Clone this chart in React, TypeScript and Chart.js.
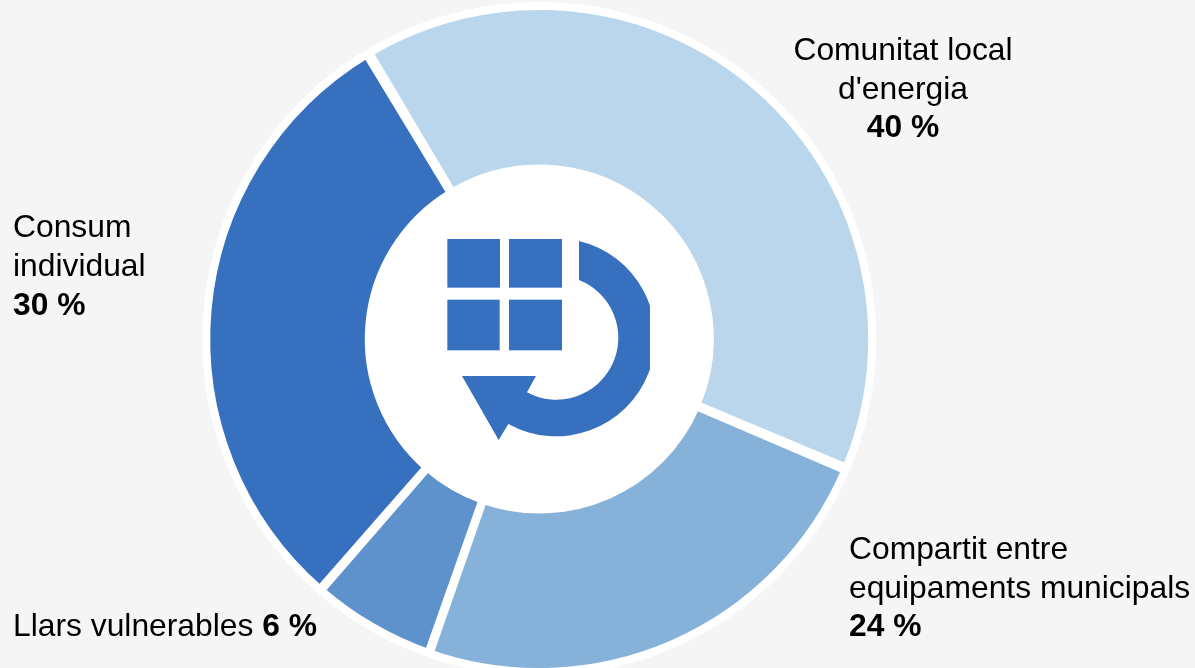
import React, { useEffect, useRef } from "react";
import { Chart, registerables } from "chart.js";

Chart.register(...registerables);

const categories = ["Comunitat local d'energia", "Compartit entre equipaments municipals", "Llars vulnerables", "Consum individual"];
const shares = [40, 24, 6, 30];
const sliceColors = ["#BAD6EC", "#86B2DA", "#5E92CD", "#3870C0"];

type Run = { text: string; bold?: boolean };
const labelLines: Run[][][] = [
  [[{ text: "Comunitat local" }], [{ text: "d'energia" }], [{ text: "40 %", bold: true }]],
  [[{ text: "Compartit entre" }], [{ text: "equipaments municipals" }], [{ text: "24 %", bold: true }]],
  [[{ text: "Llars vulnerables " }, { text: "6 %", bold: true }]],
  [[{ text: "Consum" }], [{ text: "individual" }], [{ text: "30 %", bold: true }]],
];
const labelX = [903, 849, 13, 13];
const labelBaselines = [[60, 99, 137], [559, 598, 636], [636], [237, 276, 315]];
const labelAlign: CanvasTextAlign[] = ["center", "left", "left", "left"];

const BG = "#F5F5F5";
const ICON = "#3870C0";
const FONT = '"Liberation Sans", Arial, sans-serif';
const FONT_SIZE = 31.8;
const squares = [
  [52, 42, 158, 146],
  [237, 42, 159, 146],
  [52, 224, 157, 152],
  [237, 224, 159, 152],
];
const arrowPath =
  "M447 48 A297 297 0 1 1 235 597 L206 645 L96 453 L318 453 L291 502 A186 186 0 1 0 447 165 Z";

const decorPlugin = {
  id: "decor",
  beforeDatasetsDraw(chart: any) {
    const arc = chart.getDatasetMeta(0).data[0];
    const ctx = chart.ctx;
    ctx.save();
    ctx.fillStyle = "#FFFFFF";
    ctx.beginPath();
    ctx.arc(arc.x, arc.y, 172, 0, Math.PI * 2);
    ctx.fill();
    ctx.restore();
  },
  afterDraw(chart: any) {
    const ctx: CanvasRenderingContext2D = chart.ctx;
    ctx.save();
    ctx.translate(430, 225);
    ctx.scale(1 / 3, 1 / 3);
    ctx.fillStyle = ICON;
    squares.forEach(([x, y, w, h]) => ctx.fillRect(x, y, w, h));
    ctx.beginPath();
    ctx.rect(0, 0, 660, 700);
    ctx.clip();
    ctx.fill(new Path2D(arrowPath));
    ctx.restore();

    ctx.save();
    ctx.fillStyle = "#000000";
    ctx.textBaseline = "alphabetic";
    labelLines.forEach((lines, i) => {
      lines.forEach((runs, j) => {
        const y = labelBaselines[i][j];
        const widths = runs.map((r) => {
          ctx.font = `${r.bold ? "bold " : ""}${FONT_SIZE}px ${FONT}`;
          return ctx.measureText(r.text).width;
        });
        const total = widths.reduce((a, b) => a + b, 0);
        let x = labelAlign[i] === "center" ? labelX[i] - total / 2 : labelX[i];
        ctx.textAlign = "left";
        runs.forEach((r, k) => {
          ctx.font = `${r.bold ? "bold " : ""}${FONT_SIZE}px ${FONT}`;
          ctx.fillText(r.text, x, y);
          x += widths[k];
        });
      });
    });
    ctx.restore();
  },
};

export default function App() {
  const ref = useRef<HTMLCanvasElement>(null);
  useEffect(() => {
    const chart = new Chart(ref.current!, {
      type: "doughnut",
      data: {
        labels: categories,
        datasets: [
          {
            data: shares,
            backgroundColor: sliceColors,
            borderColor: "#FFFFFF",
            borderWidth: 8,
            spacing: 2,
            clip: false,
          } as any,
        ],
      },
      options: {
        responsive: false,
        animation: false,
        rotation: -31,
        radius: 332,
        cutout: "51.05%",
        layout: { padding: { left: 0, right: 116.5, top: 10, bottom: 0 } },
        plugins: { legend: { display: false }, tooltip: { enabled: false } },
      } as any,
      plugins: [decorPlugin],
    });
    return () => chart.destroy();
  }, []);
  return (
    <div style={{ position: "absolute", left: 0, top: 0, width: 1195, height: 668, background: BG, overflow: "hidden" }}>
      <canvas ref={ref} width={1195} height={668} style={{ display: "block" }} />
    </div>
  );
}
